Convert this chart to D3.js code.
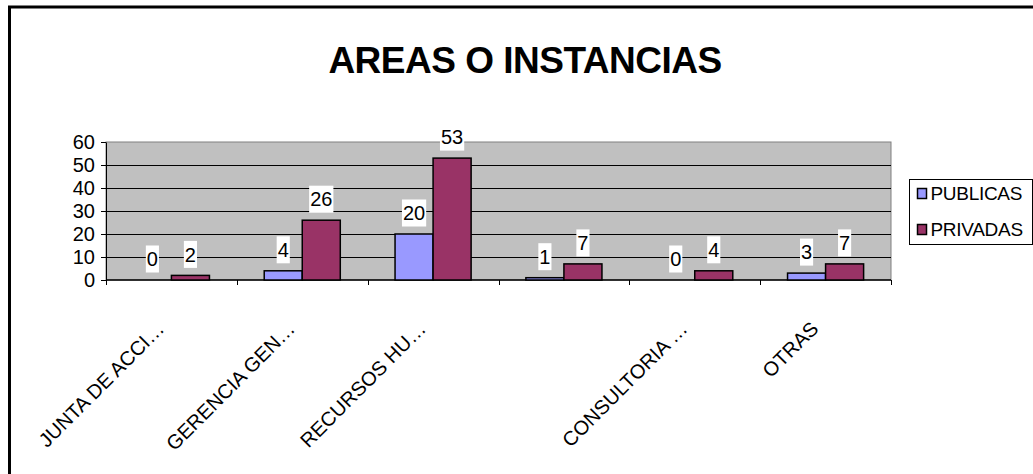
<!DOCTYPE html>
<meta charset="utf-8">
<script src="https://d3js.org/d3.v7.min.js"></script>
<style>
  body { margin: 0; background: #fff; }
  text { font-family: "Liberation Sans", Arial, sans-serif; }
</style>
<div id="chart"></div>
<script>

// data
var categories = ["JUNTA DE ACCI\u2026", "GERENCIA GEN\u2026", "RECURSOS HU\u2026", "", "CONSULTORIA \u2026", "OTRAS"];
var seriesNames = ["PUBLICAS", "PRIVADAS"];
var publicas = [0, 4, 20, 1, 0, 3];
var privadas = [2, 26, 53, 7, 4, 7];
var yTicks = [0, 10, 20, 30, 40, 50, 60];
var colors = ["#9999FF", "#993366"];

var W = 1033, H = 474;
var plot = {left: 106, right: 891, top: 142, bottom: 280};

var svg = d3.select("#chart").append("svg")
  .attr("width", W)
  .attr("height", H);

// outer chart frame (cut off on the right and bottom)
svg.append("rect")
  .attr("x", 9.5).attr("y", 7)
  .attr("width", 1040).attr("height", 480)
  .attr("fill", "white")
  .attr("stroke", "black")
  .attr("stroke-width", 3);

// title
svg.append("text")
  .attr("x", 525).attr("y", 73)
  .attr("text-anchor", "middle")
  .style("font-size", "37px")
  .style("font-weight", "bold")
  .style("letter-spacing", "-0.5px")
  .text("AREAS O INSTANCIAS");

var x = d3.scaleBand()
  .domain(d3.range(categories.length))
  .range([plot.left, plot.right]);

var x1 = d3.scaleBand()
  .domain(seriesNames)
  .range([0, x.bandwidth()])
  .paddingOuter(0.72);

var y = d3.scaleLinear()
  .domain([0, 60])
  .range([plot.bottom, plot.top]);

// plot background
svg.append("rect")
  .attr("x", plot.left).attr("y", plot.top)
  .attr("width", plot.right - plot.left)
  .attr("height", plot.bottom - plot.top)
  .attr("fill", "#C0C0C0")
  .attr("stroke", "#808080")
  .attr("stroke-width", 1);

// gridlines
svg.append("g")
  .selectAll("line")
  .data(yTicks.filter(function(d) { return d > 0 && d < 60; }))
  .enter().append("line")
    .attr("x1", plot.left).attr("x2", plot.right)
    .attr("y1", function(d) { return Math.round(y(d)) + 0.5; })
    .attr("y2", function(d) { return Math.round(y(d)) + 0.5; })
    .attr("stroke", "black");

// y axis
var yAxis = svg.append("g")
  .attr("transform", "translate(" + plot.left + ",0)")
  .call(d3.axisLeft(y).tickValues(yTicks).tickSize(5).tickSizeOuter(0));
yAxis.select(".domain").attr("stroke", "black");
yAxis.selectAll(".tick text")
  .attr("x", -11)
  .style("font-size", "20px")
  .style("font-family", "'Liberation Sans', Arial, sans-serif")
  .attr("fill", "black");

// x axis with ticks at category boundaries
var xAxis = svg.append("g")
  .attr("transform", "translate(0," + plot.bottom + ")");
xAxis.append("line")
  .attr("x1", plot.left).attr("x2", plot.right)
  .attr("stroke", "black").attr("stroke-width", 1.5);
xAxis.selectAll(".tk")
  .data(d3.range(categories.length + 1))
  .enter().append("line")
    .attr("class", "tk")
    .attr("x1", function(i) { return Math.round(plot.left + i * x.step()) + 0.5; })
    .attr("x2", function(i) { return Math.round(plot.left + i * x.step()) + 0.5; })
    .attr("y1", 0).attr("y2", 5)
    .attr("stroke", "black");

// rotated category labels
xAxis.selectAll(".lbl")
  .data(categories)
  .enter().append("text")
    .attr("class", "lbl")
    .attr("text-anchor", "end")
    .attr("transform", function(d, i) {
      return "translate(" + (x(i) + x.bandwidth() / 2 - 6) + ",50) rotate(-45)";
    })
    .style("font-size", "20px")
    .text(function(d) { return d; });

// bars
var rows = categories.map(function(c, i) {
  return [{s: "PUBLICAS", v: publicas[i], c: colors[0]},
          {s: "PRIVADAS", v: privadas[i], c: colors[1]}];
});

var groups = svg.append("g").selectAll("g")
  .data(rows)
  .enter().append("g")
    .attr("transform", function(d, i) { return "translate(" + x(i) + ",0)"; });

groups.selectAll("rect")
  .data(function(d) { return d; })
  .enter().append("rect")
    .attr("x", function(d) { return x1(d.s); })
    .attr("y", function(d) { return y(d.v); })
    .attr("width", x1.bandwidth())
    .attr("height", function(d) { return plot.bottom - y(d.v); })
    .attr("fill", function(d) { return d.c; })
    .attr("stroke", "black")
    .attr("stroke-width", 1.5);

// data labels on white boxes
var lab = groups.selectAll(".dl")
  .data(function(d) { return d; })
  .enter().append("g")
    .attr("class", "dl")
    .attr("transform", function(d) {
      return "translate(" + (x1(d.s) + x1.bandwidth() / 2) + "," + (y(d.v) - 21) + ")";
    });
lab.append("text")
  .attr("text-anchor", "middle")
  .attr("dy", "0.36em")
  .style("font-size", "20px")
  .text(function(d) { return d.v; });
lab.each(function() {
  var g = d3.select(this);
  var bb = g.select("text").node().getBBox();
  g.insert("rect", "text")
    .attr("x", bb.x - 1).attr("y", -13.5)
    .attr("width", bb.width + 2).attr("height", 27)
    .attr("fill", "white");
});

// legend
var leg = svg.append("g").attr("transform", "translate(909.5,179.5)");
leg.append("rect")
  .attr("width", 123).attr("height", 65)
  .attr("fill", "white").attr("stroke", "black");
var li = leg.selectAll(".li")
  .data(seriesNames)
  .enter().append("g")
    .attr("class", "li")
    .attr("transform", function(d, i) { return "translate(0," + (14 + i * 36) + ")"; });
li.append("rect")
  .attr("x", 8).attr("y", -5)
  .attr("width", 9).attr("height", 10)
  .attr("fill", function(d, i) { return colors[i]; })
  .attr("stroke", "black").attr("stroke-width", 1.5);
li.append("text")
  .attr("x", 21).attr("dy", "0.36em")
  .style("font-size", "19px")
  .style("letter-spacing", "-0.3px")
  .text(function(d) { return d; });

</script>
